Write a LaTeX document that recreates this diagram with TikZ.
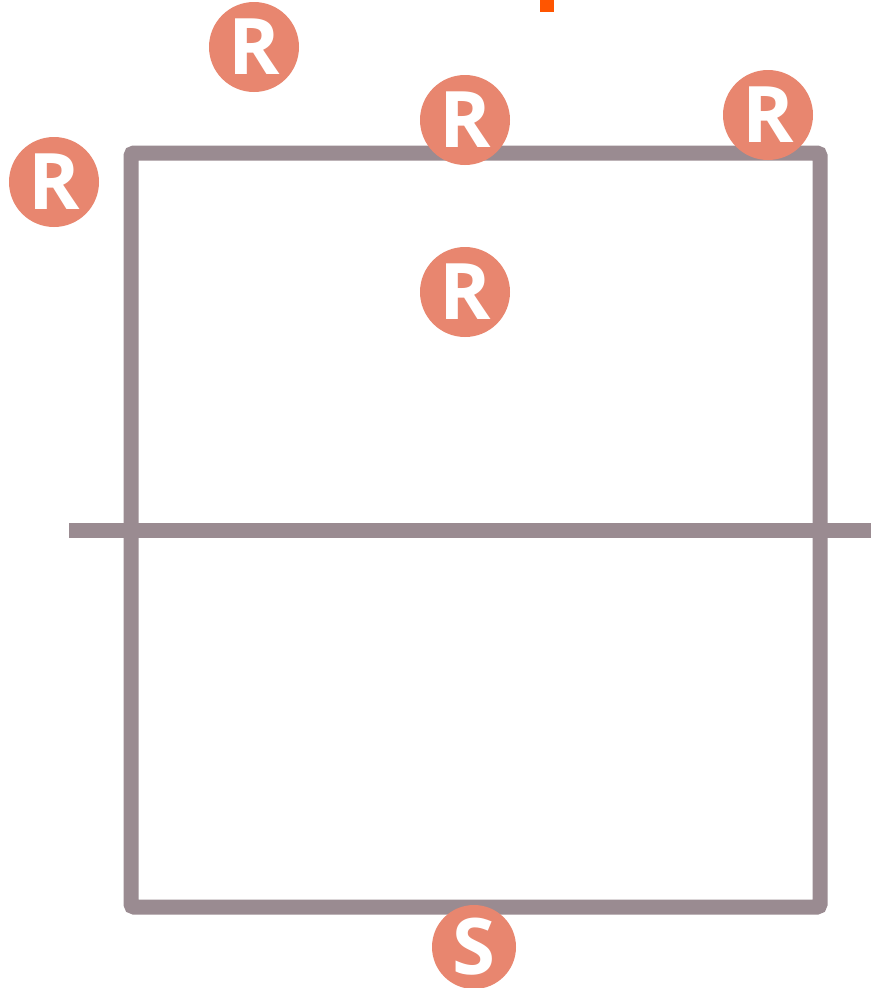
\documentclass[tikz,border=0pt]{standalone}
\usepackage{fontspec}
\setmainfont{Open Sans}
\definecolor{courtline}{HTML}{9A8B91}
\definecolor{badge}{HTML}{E8866F}
\definecolor{marker}{HTML}{FF5500}
\begin{document}
\begin{tikzpicture}[x=1pt,y=-1pt,
  courtstyle/.style={draw=courtline,line width=15pt,rounded corners=3pt},
  netstyle/.style={draw=courtline,line width=15pt},
  player/.style={circle,fill=badge,minimum size=90pt,inner sep=0pt,text=white,
    font=\fontsize{78}{78}\selectfont\bfseries}]
\useasboundingbox (0,0) rectangle (871,988);
\fill[white] (0,0) rectangle (871,988);
\fill[marker] (540,0) rectangle (554,12);
\draw[courtstyle] (131,153) rectangle (820,907);
\coordinate (netL) at (69,530);
\coordinate (netR) at (871,530);
\draw[netstyle] (netL) -- (netR);
\node[player] (r1) at (254,47) {R};
\node[player] (r2) at (465,120) {R};
\node[player] (r3) at (768,115) {R};
\node[player] (r4) at (54,182) {R};
\node[player] (r5) at (465,292) {R};
\node[player,minimum size=84pt] (s1) at (474,947) {S};
\end{tikzpicture}
\end{document}
